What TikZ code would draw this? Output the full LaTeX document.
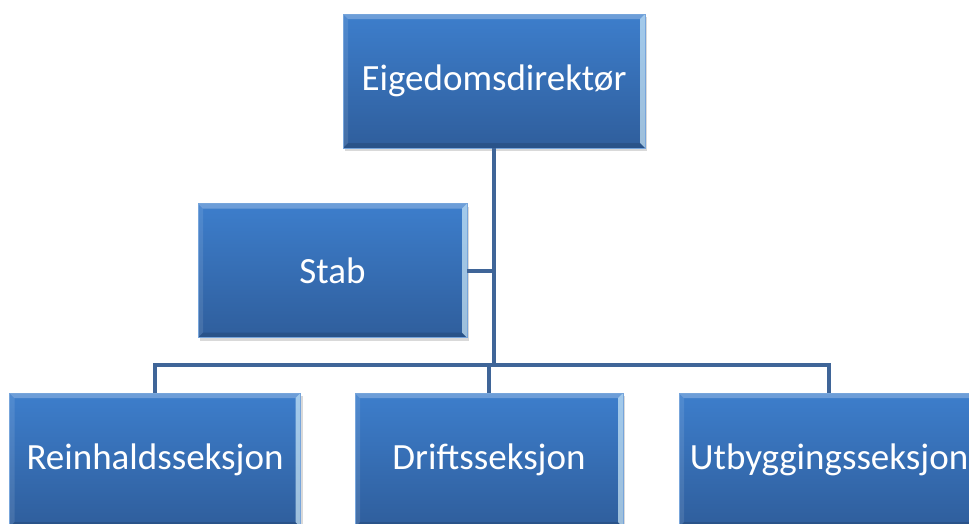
\documentclass[tikz,border=0pt]{standalone}
\usepackage{fontspec}
\setmainfont{Carlito}
\usetikzlibrary{shadows}
\definecolor{boxtop}{RGB}{61,126,204}
\definecolor{boxbot}{RGB}{47,94,156}
\definecolor{linecol}{RGB}{63,101,152}
\begin{document}
\begin{tikzpicture}[x=1pt,y=-1pt,
 box/.style={minimum height=134pt,inner sep=0pt,text=white,
  font=\fontsize{37}{40}\selectfont,
  top color=boxtop,bottom color=boxbot,draw=boxtop!70!white,line width=0.6pt,
  drop shadow={opacity=0.3,shadow xshift=2pt,shadow yshift=-3pt},
  path picture={
   \fill[white,opacity=0.25] (path picture bounding box.north west) -- (path picture bounding box.north east)
    -- ([shift={(-5pt,-5pt)}] path picture bounding box.north east) -- ([shift={(5pt,-5pt)}] path picture bounding box.north west) -- cycle;
   \fill[white,opacity=0.10] (path picture bounding box.north west) -- (path picture bounding box.south west)
    -- ([shift={(5pt,5pt)}] path picture bounding box.south west) -- ([shift={(5pt,-5pt)}] path picture bounding box.north west) -- cycle;
   \fill[cyan!15!white,opacity=0.65] (path picture bounding box.north east) -- (path picture bounding box.south east)
    -- ([shift={(-5pt,5pt)}] path picture bounding box.south east) -- ([shift={(-5pt,-5pt)}] path picture bounding box.north east) -- cycle;
   \fill[black,opacity=0.12] (path picture bounding box.south west) -- (path picture bounding box.south east)
    -- ([shift={(-5pt,5pt)}] path picture bounding box.south east) -- ([shift={(5pt,5pt)}] path picture bounding box.south west) -- cycle;
  }},
 conn/.style={draw=linecol,line width=4pt}]
 \useasboundingbox (0,0) rectangle (969,523);
 \clip (0,0) rectangle (969,523);
 % boxes
 \node [box,minimum width=302pt] (dir) at (494,81) {Eigedomsdirektør};
 \node [box,minimum width=269pt] (stab) at (332.5,270.5) {Stab};
 \node [box,minimum width=291pt] (rein) at (155,460) {Reinhaldsseksjon};
 \node [box,minimum width=268pt] (drift) at (489,460) {Driftsseksjon};
 \node [box,minimum width=300pt] (utb) at (829,460) {Utbyggingsseksjon};
 % lines
 \coordinate (bus) at (494,365);
 \draw [conn] (dir.south) -- (bus);
 \draw [conn] (stab.east) -- (stab.east -| bus);
 \draw [conn] (rein.north) |- (bus) -| (utb.north);
 \draw [conn] (drift.north) -- (drift.north |- bus);
\end{tikzpicture}
\end{document}
